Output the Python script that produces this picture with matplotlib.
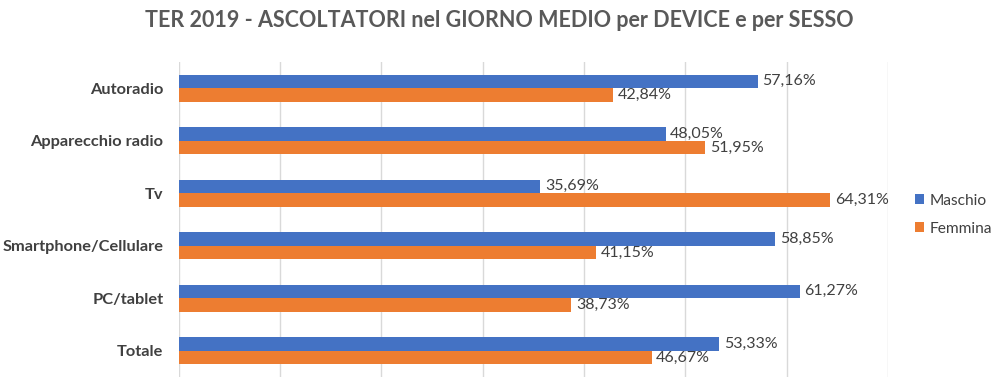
import numpy as np
import matplotlib.pyplot as plt

categories = ["Autoradio", "Apparecchio radio", "Tv", "Smartphone/Cellulare", "PC/tablet", "Totale"]
maschio = [57.16, 48.05, 35.69, 58.85, 61.27, 53.33]
femmina = [42.84, 51.95, 64.31, 41.15, 38.73, 46.67]
series_names = ["Maschio", "Femmina"]

plt.rcParams['font.family'] = ['Lato', 'DejaVu Sans']

blue = '#4472C4'
orange = '#ED7D31'
text_col = '#404040'

fig = plt.figure(figsize=(9.99, 3.87), dpi=100)
ax = fig.add_axes([0.179, 0.026, 0.710, 0.814])

y = np.arange(len(categories))
h = 0.26
b1 = ax.barh(y - h / 2, maschio, height=h, color=blue, label=series_names[0], zorder=3)
b2 = ax.barh(y + h / 2, femmina, height=h, color=orange, label=series_names[1], zorder=3)

for bars, vals in [(b1, maschio), (b2, femmina)]:
    for bar, v in zip(bars, vals):
        ax.text(v + 0.45, bar.get_y() + bar.get_height() / 2, f"{v:.2f}%".replace('.', ','),
                va='center', ha='left', fontsize=11.5, color=text_col)

ax.set_xlim(0, 70)
ax.set_ylim(len(categories) - 0.5, -0.5)
ax.set_xticks(np.arange(0, 71, 10))
ax.set_xticklabels([])
ax.tick_params(axis='x', length=0)
ax.tick_params(axis='y', length=0, pad=11)
ax.set_yticks(y)
ax.set_yticklabels(categories, fontsize=11.8, fontweight='bold', color=text_col)
ax.grid(axis='x', color='#D9D9D9', linewidth=1, zorder=0)
for s in ax.spines.values():
    s.set_visible(False)

fig.legend(handles=[b1, b2], loc='center left', bbox_to_anchor=(0.902, 0.445),
           frameon=False, fontsize=11.2, handlelength=0.6, handleheight=0.6,
           handletextpad=0.35, labelspacing=0.9, labelcolor=text_col)

fig.suptitle("TER 2019 - ASCOLTATORI nel GIORNO MEDIO per DEVICE e per SESSO",
             x=0.5, y=0.975, fontsize=15.5, fontweight='bold', color='#595959')

fig.savefig("out.png", dpi=100)
